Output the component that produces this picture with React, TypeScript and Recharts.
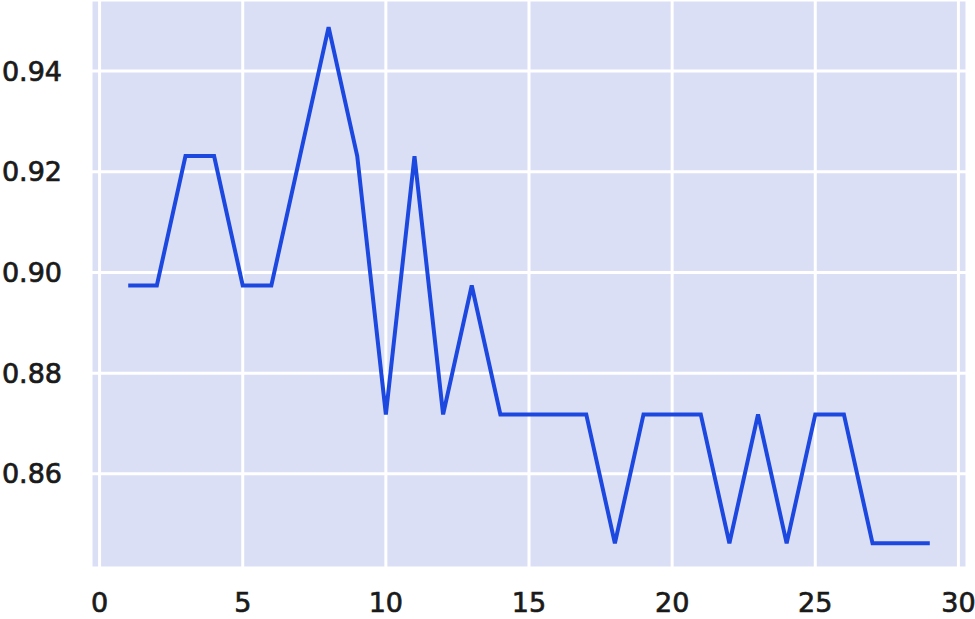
import { LineChart, Line, XAxis, YAxis, CartesianGrid } from 'recharts'

const epochs = [1, 2, 3, 4, 5, 6, 7, 8, 9, 10, 11, 12, 13, 14, 15, 16, 17, 18, 19, 20, 21, 22, 23, 24, 25, 26, 27, 28, 29]
const scores = [
  0.8974, 0.8974, 0.9231, 0.9231, 0.8974, 0.8974, 0.9231, 0.9487, 0.9231, 0.8718,
  0.9231, 0.8718, 0.8974, 0.8718, 0.8718, 0.8718, 0.8718, 0.8462, 0.8718, 0.8718,
  0.8718, 0.8462, 0.8718, 0.8462, 0.8718, 0.8718, 0.8462, 0.8462, 0.8462,
]
const xTicks = [0, 5, 10, 15, 20, 25, 30]
const yTicks = [0.86, 0.88, 0.9, 0.92, 0.94]

const data = epochs.map((x, i) => ({ x, y: scores[i] }))

// reference labels look heavier than plain DejaVu, a thin stroke thickens them
const tickStyle = { fontFamily: 'DejaVu Sans', fontSize: 27, fill: '#1a1a1a', stroke: '#1a1a1a', strokeWidth: 0.7 }

export default function App() {
  return (
    <div style={{ position: 'absolute', left: 0, top: 0, background: '#fff' }}>
      <LineChart width={975} height={619} data={data} margin={{ top: 0, right: 8, left: 0, bottom: 0 }}>
        <CartesianGrid fill="#dbdff5" stroke="#fff" strokeWidth={3} />
        <XAxis
          dataKey="x"
          type="number"
          domain={[-0.3, 30.3]}
          ticks={xTicks}
          allowDataOverflow
          axisLine={false}
          tickLine={false}
          tickSize={0}
          tickMargin={25}
          height={51}
          tick={tickStyle}
        />
        <YAxis
          type="number"
          domain={[0.8413, 0.9541]}
          ticks={yTicks}
          allowDataOverflow
          axisLine={false}
          tickLine={false}
          tickSize={0}
          tickMargin={29}
          width={91}
          tick={tickStyle}
          tickFormatter={(v: number) => v.toFixed(2)}
        />
        <Line
          dataKey="y"
          stroke="#1c48e0"
          strokeWidth={4}
          dot={false}
          isAnimationActive={false}
        />
      </LineChart>
    </div>
  )
}
